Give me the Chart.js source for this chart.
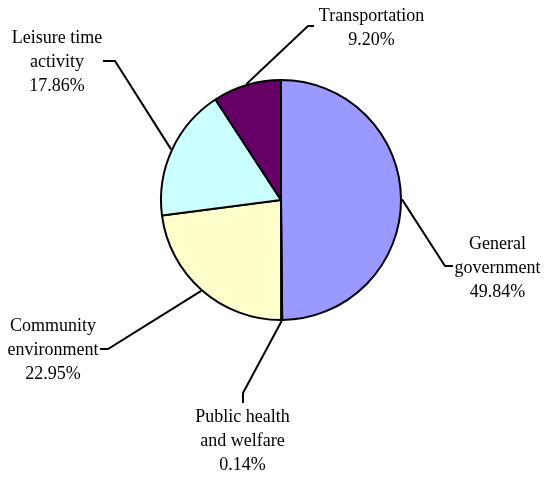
<!DOCTYPE html>
<html>
<head>
<meta charset="utf-8">
<script src="https://cdn.jsdelivr.net/npm/chart.js@4/dist/chart.umd.min.js"></script>
<style>
  html, body { margin: 0; padding: 0; background: #ffffff; }
  #wrap { width: 544px; height: 478px; }
</style>
</head>
<body>
<div id="wrap"><canvas id="c" width="544" height="478"></canvas></div>
<script>
// ---- data ----
const categories = [
  ["General", "government"],
  ["Public health", "and welfare"],
  ["Community", "environment"],
  ["Leisure time", "activity"],
  ["Transportation"]
];
const shares = [49.84, 0.14, 22.95, 17.86, 9.20];

// ---- styles / label layout (not data) ----
const sliceColors = ["#9999FF", "#993366", "#FFFFCC", "#CCFFFF", "#660066"];
const labelLayout = [
  { elbow: [445, 266], end: [453, 266], textX: 497.5, midBaseline: 273, mode: "middle" },
  { elbow: [243, 393], end: [243, 403], textX: 242.5, firstBaseline: 422, mode: "top" },
  { elbow: [108, 349], end: [100, 349], textX: 53, midBaseline: 355, mode: "middle" },
  { elbow: [115, 61], end: [103, 61], textX: 57, midBaseline: 67, mode: "middle" },
  { elbow: [308, 26], end: [314, 26], textX: 371.5, midBaseline: 33, mode: "middle" }
];
const LINE_H = 24;

const leaderLabels = {
  id: "leaderLabels",
  afterDatasetsDraw(chart) {
    const ctx = chart.ctx;
    const meta = chart.getDatasetMeta(0);
    ctx.save();
    ctx.strokeStyle = "#000";
    ctx.lineWidth = 2;
    ctx.lineJoin = "miter";
    ctx.fillStyle = "#000";
    ctx.font = '18px "Liberation Serif", "Times New Roman", serif';
    ctx.textAlign = "center";
    ctx.textBaseline = "alphabetic";
    meta.data.forEach((arc, i) => {
      const p = arc.getProps(["x", "y", "startAngle", "endAngle", "outerRadius"], true);
      const mid = (p.startAngle + p.endAngle) / 2;
      const r = p.outerRadius + 1;
      const sx = p.x + Math.cos(mid) * r;
      const sy = p.y + Math.sin(mid) * r;
      const L = labelLayout[i];
      ctx.beginPath();
      ctx.moveTo(sx, sy);
      ctx.lineTo(L.elbow[0], L.elbow[1]);
      ctx.lineTo(L.end[0], L.end[1]);
      ctx.stroke();
      const lines = categories[i].concat([shares[i].toFixed(2) + "%"]);
      let first;
      if (L.mode === "top") first = L.firstBaseline;
      else first = L.midBaseline - ((lines.length - 1) / 2) * LINE_H;
      lines.forEach((t, k) => ctx.fillText(t, L.textX, first + k * LINE_H));
    });
    ctx.restore();
  }
};

new Chart(document.getElementById("c"), {
  type: "pie",
  data: {
    labels: categories.map(c => c.join(" ")),
    datasets: [{
      data: shares,
      backgroundColor: sliceColors,
      borderColor: "#000000",
      borderWidth: 2,
      hoverOffset: 0
    }]
  },
  options: {
    responsive: false,
    animation: false,
    radius: 120,
    layout: { padding: { left: 18, right: 0, top: 0, bottom: 78 } },
    plugins: {
      legend: { display: false },
      tooltip: { enabled: false },
      title: { display: false }
    },
    events: []
  },
  plugins: [leaderLabels]
});
</script>
</body>
</html>
